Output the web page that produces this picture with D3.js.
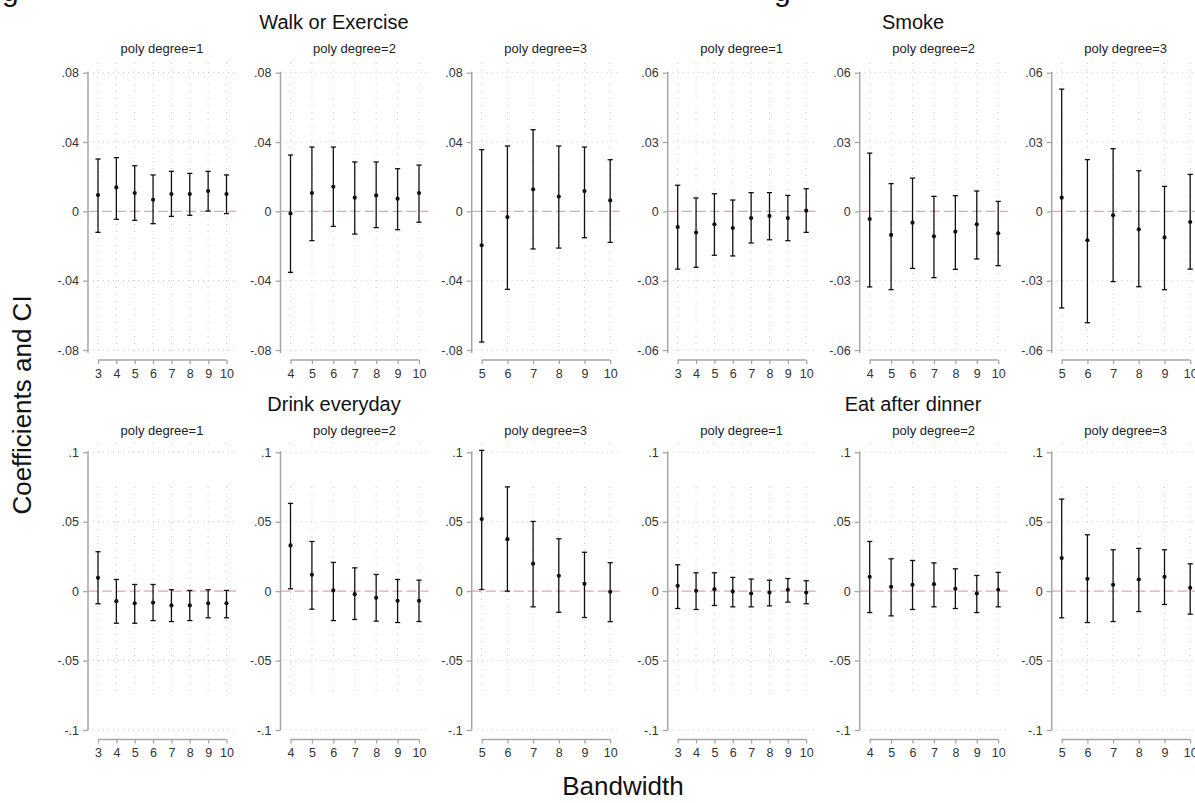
<!DOCTYPE html>
<html>
<head>
<meta charset="utf-8">
<script src="https://cdn.jsdelivr.net/npm/d3@7/dist/d3.min.js"></script>
<style>
  html, body { margin: 0; padding: 0; background: #fff; }
  svg { display: block; font-family: "Liberation Sans", Arial, sans-serif; }
</style>
</head>
<body>
<svg id="chart" width="1195" height="803"></svg>
<script>
// Bandwidths used for each polynomial degree
const bwDeg1 = [3, 4, 5, 6, 7, 8, 9, 10];
const bwDeg2 = [4, 5, 6, 7, 8, 9, 10];
const bwDeg3 = [5, 6, 7, 8, 9, 10];

// Walk or Exercise
const walkD1Coef = [0.0094, 0.0138, 0.0106, 0.0067, 0.0100, 0.0100, 0.0117, 0.0100];
const walkD1Lo   = [-0.0121, -0.0046, -0.0052, -0.0071, -0.0029, -0.0023, 0.0002, -0.0013];
const walkD1Hi   = [0.0302, 0.0310, 0.0263, 0.0210, 0.0231, 0.0219, 0.0231, 0.0210];
const walkD2Coef = [-0.0012, 0.0106, 0.0142, 0.0079, 0.0092, 0.0073, 0.0106];
const walkD2Lo   = [-0.0352, -0.0169, -0.0087, -0.0131, -0.0094, -0.0106, -0.0063];
const walkD2Hi   = [0.0325, 0.0371, 0.0371, 0.0285, 0.0285, 0.0246, 0.0267];
const walkD3Coef = [-0.0196, -0.0033, 0.0127, 0.0085, 0.0117, 0.0063];
const walkD3Lo   = [-0.0754, -0.0450, -0.0217, -0.0212, -0.0152, -0.0179];
const walkD3Hi   = [0.0356, 0.0377, 0.0471, 0.0377, 0.0371, 0.0298];

// Smoke
const smokeD1Coef = [-0.0068, -0.0092, -0.0056, -0.0072, -0.0029, -0.0020, -0.0029, 0.0003];
const smokeD1Lo   = [-0.0250, -0.0242, -0.0190, -0.0193, -0.0137, -0.0123, -0.0127, -0.0091];
const smokeD1Hi   = [0.0113, 0.0058, 0.0076, 0.0049, 0.0081, 0.0081, 0.0069, 0.0098];
const smokeD2Coef = [-0.0033, -0.0102, -0.0049, -0.0108, -0.0088, -0.0056, -0.0095];
const smokeD2Lo   = [-0.0327, -0.0339, -0.0247, -0.0287, -0.0251, -0.0206, -0.0235];
const smokeD2Hi   = [0.0252, 0.0120, 0.0144, 0.0065, 0.0068, 0.0088, 0.0043];
const smokeD3Coef = [0.0059, -0.0125, -0.0017, -0.0078, -0.0113, -0.0046];
const smokeD3Lo   = [-0.0418, -0.0482, -0.0304, -0.0326, -0.0339, -0.0250];
const smokeD3Hi   = [0.0529, 0.0224, 0.0271, 0.0176, 0.0108, 0.0160];

// Drink everyday
const drinkD1Coef = [0.0096, -0.0072, -0.0087, -0.0082, -0.0103, -0.0103, -0.0087, -0.0087];
const drinkD1Lo   = [-0.0091, -0.0231, -0.0231, -0.0212, -0.0219, -0.0212, -0.0192, -0.0192];
const drinkD1Hi   = [0.0284, 0.0084, 0.0048, 0.0048, 0.0010, 0.0005, 0.0010, 0.0005];
const drinkD2Coef = [0.0329, 0.0118, 0.0005, -0.0022, -0.0048, -0.0070, -0.0070];
const drinkD2Lo   = [0.0017, -0.0130, -0.0212, -0.0204, -0.0216, -0.0226, -0.0219];
const drinkD2Hi   = [0.0632, 0.0358, 0.0207, 0.0168, 0.0120, 0.0084, 0.0079];
const drinkD3Coef = [0.0519, 0.0374, 0.0198, 0.0111, 0.0053, -0.0005];
const drinkD3Lo   = [0.0012, 0.0000, -0.0113, -0.0152, -0.0190, -0.0220];
const drinkD3Hi   = [0.1014, 0.0751, 0.0502, 0.0377, 0.0280, 0.0205];

// Eat after dinner
const eatD1Coef = [0.0038, 0.0002, 0.0014, -0.0002, -0.0017, -0.0010, 0.0010, -0.0010];
const eatD1Lo   = [-0.0125, -0.0132, -0.0103, -0.0113, -0.0113, -0.0106, -0.0079, -0.0091];
const eatD1Hi   = [0.0190, 0.0132, 0.0132, 0.0099, 0.0087, 0.0079, 0.0091, 0.0075];
const eatD2Coef = [0.0103, 0.0031, 0.0046, 0.0050, 0.0017, -0.0017, 0.0010];
const eatD2Lo   = [-0.0154, -0.0178, -0.0132, -0.0113, -0.0125, -0.0154, -0.0113];
const eatD2Hi   = [0.0358, 0.0233, 0.0221, 0.0204, 0.0161, 0.0113, 0.0135];
const eatD3Coef = [0.0238, 0.0089, 0.0046, 0.0084, 0.0103, 0.0024];
const eatD3Lo   = [-0.0192, -0.0226, -0.0219, -0.0147, -0.0096, -0.0166];
const eatD3Hi   = [0.0663, 0.0406, 0.0298, 0.0308, 0.0298, 0.0197];

// Y-axis ticks per outcome
const walkTicks  = [-0.08, -0.04, 0, 0.04, 0.08];
const smokeTicks = [-0.06, -0.03, 0, 0.03, 0.06];
const drinkTicks = [-0.1, -0.05, 0, 0.05, 0.1];
const eatTicks   = [-0.1, -0.05, 0, 0.05, 0.1];

// Titles
const outcomeTitles = ["Walk or Exercise", "Smoke", "Drink everyday", "Eat after dinner"];
const degreeLabels = ["poly degree=1", "poly degree=2", "poly degree=3"];
const yTitle = "Coefficients and CI";
const xTitle = "Bandwidth";

const svg = d3.select("#chart");

// Descenders of the figure headings that run off the top edge
svg.append("text").attr("x", 2).attr("y", 1).attr("font-size", 30).attr("fill", "#111").text("g");
svg.append("text").attr("x", 774).attr("y", 1).attr("font-size", 30).attr("fill", "#111").text("g");

// Panel layout
const colAxisX = [88, 280.5, 471.7, 667.7, 859.7, 1051.7];
const rows = [
  { yTop: 72.7, yBot: 350, xAxisY: 360, gridTop: 63, gridBot: 353, gridFrom: null, titleY: 29, subY: 53 },
  { yTop: 452.3, yBot: 730, xAxisY: 739.5, gridTop: 443, gridBot: null, gridFrom: [0.075, -0.075], titleY: 411, subY: 435 }
];
const groupCenters = [334, 913];

const outcomes = [
  { ticks: walkTicks,  row: 0, group: 0, d: [[bwDeg1, walkD1Coef, walkD1Lo, walkD1Hi], [bwDeg2, walkD2Coef, walkD2Lo, walkD2Hi], [bwDeg3, walkD3Coef, walkD3Lo, walkD3Hi]] },
  { ticks: smokeTicks, row: 0, group: 1, d: [[bwDeg1, smokeD1Coef, smokeD1Lo, smokeD1Hi], [bwDeg2, smokeD2Coef, smokeD2Lo, smokeD2Hi], [bwDeg3, smokeD3Coef, smokeD3Lo, smokeD3Hi]] },
  { ticks: drinkTicks, row: 1, group: 0, d: [[bwDeg1, drinkD1Coef, drinkD1Lo, drinkD1Hi], [bwDeg2, drinkD2Coef, drinkD2Lo, drinkD2Hi], [bwDeg3, drinkD3Coef, drinkD3Lo, drinkD3Hi]] },
  { ticks: eatTicks,   row: 1, group: 1, d: [[bwDeg1, eatD1Coef, eatD1Lo, eatD1Hi], [bwDeg2, eatD2Coef, eatD2Lo, eatD2Hi], [bwDeg3, eatD3Coef, eatD3Lo, eatD3Hi]] }
];

// Tick label without the leading zero: .04, -.08, 0
function fmt(v) {
  if (Math.abs(v) < 1e-9) return "0";
  const s = String(+v.toFixed(4));
  return s.replace(/^0\./, ".").replace(/^-0\./, "-.");
}

const axisColor = "#a6a6a6";
const gridColor = "#c4c4c4";
const textColor = "#333";

outcomes.forEach((o, oi) => {
  const r = rows[o.row];
  svg.append("text")
    .attr("x", groupCenters[o.group]).attr("y", r.titleY)
    .attr("text-anchor", "middle").attr("font-size", 20).attr("fill", "#111")
    .text(outcomeTitles[oi]);

  o.d.forEach((series, di) => {
    const [bw, coef, lo, hi] = series;
    const ax = colAxisX[o.group * 3 + di];
    const g = svg.append("g");

    const x = d3.scaleLinear().domain([bw[0], 10]).range([ax + 10, ax + 138.5]);
    const ymax = d3.max(o.ticks), ymin = d3.min(o.ticks);
    const y = d3.scaleLinear().domain([ymin, ymax]).range([r.yBot, r.yTop]);
    const plotRight = ax + 148;

    // horizontal grid
    o.ticks.filter(t => t !== 0).forEach(t => {
      g.append("line")
        .attr("x1", ax).attr("x2", plotRight)
        .attr("y1", y(t)).attr("y2", y(t))
        .attr("stroke", gridColor).attr("stroke-width", 1)
        .attr("stroke-dasharray", "1,4");
    });
    // vertical grid
    bw.forEach(b => {
      if (r.gridFrom) {
        g.append("line")
          .attr("x1", x(b)).attr("x2", x(b))
          .attr("y1", r.gridTop).attr("y2", r.gridTop + 1)
          .attr("stroke", gridColor).attr("stroke-width", 1);
        g.append("line")
          .attr("x1", x(b)).attr("x2", x(b))
          .attr("y1", y(r.gridFrom[0])).attr("y2", y(r.gridFrom[1]))
          .attr("stroke", gridColor).attr("stroke-width", 1)
          .attr("stroke-dasharray", "1,6");
      } else {
        g.append("line")
          .attr("x1", x(b)).attr("x2", x(b))
          .attr("y1", r.gridTop).attr("y2", r.gridBot)
          .attr("stroke", gridColor).attr("stroke-width", 1)
          .attr("stroke-dasharray", "1,6");
      }
    });

    // zero reference line
    g.append("line")
      .attr("x1", ax).attr("x2", plotRight)
      .attr("y1", y(0)).attr("y2", y(0))
      .attr("stroke", "#dca6bd").attr("stroke-width", 1.4)
      .attr("stroke-dasharray", "10,4");

    // y axis
    const yAxis = d3.axisLeft(y).tickValues(o.ticks).tickFormat(fmt).tickSize(5).tickPadding(4);
    const yg = g.append("g").attr("transform", `translate(${ax},0)`).call(yAxis);
    yg.select(".domain").attr("d", `M0,${r.yTop - 1}V${r.yBot + (o.row === 0 ? 3 : 0)}`)
      .attr("stroke", axisColor).attr("stroke-width", 1.5);
    yg.selectAll(".tick line").attr("stroke", axisColor).attr("stroke-width", 1.3);
    yg.selectAll(".tick text").attr("fill", textColor).attr("font-size", 12.5)
      .attr("font-family", "Liberation Sans, Arial, sans-serif");

    // x axis
    const xAxis = d3.axisBottom(x).tickValues(bw).tickFormat(d3.format("d")).tickSize(4).tickPadding(5);
    const xg = g.append("g").attr("transform", `translate(0,${r.xAxisY})`).call(xAxis);
    xg.select(".domain").attr("d", `M${x(bw[0])},0H${x(10)}`)
      .attr("stroke", axisColor).attr("stroke-width", 1.5);
    xg.selectAll(".tick line").attr("stroke", axisColor).attr("stroke-width", 1.3);
    xg.selectAll(".tick text").attr("fill", textColor).attr("font-size", 12.5)
      .attr("font-family", "Liberation Sans, Arial, sans-serif");

    // subtitle
    svg.append("text")
      .attr("x", ax + 74).attr("y", r.subY)
      .attr("text-anchor", "middle").attr("font-size", 13).attr("fill", "#222")
      .text(degreeLabels[di]);

    // confidence intervals and point estimates
    const pts = bw.map((b, i) => ({ b, c: coef[i], lo: lo[i], hi: hi[i] }));
    const eb = g.selectAll(".eb").data(pts).enter().append("g");
    eb.append("line")
      .attr("x1", d => x(d.b)).attr("x2", d => x(d.b))
      .attr("y1", d => y(d.lo)).attr("y2", d => y(d.hi))
      .attr("stroke", "#111").attr("stroke-width", 1.3);
    eb.append("line")
      .attr("x1", d => x(d.b) - 2.6).attr("x2", d => x(d.b) + 2.6)
      .attr("y1", d => y(d.hi)).attr("y2", d => y(d.hi))
      .attr("stroke", "#111").attr("stroke-width", 1.3);
    eb.append("line")
      .attr("x1", d => x(d.b) - 2.6).attr("x2", d => x(d.b) + 2.6)
      .attr("y1", d => y(d.lo)).attr("y2", d => y(d.lo))
      .attr("stroke", "#111").attr("stroke-width", 1.3);
    eb.append("circle")
      .attr("cx", d => x(d.b)).attr("cy", d => y(d.c))
      .attr("r", 2.1).attr("fill", "#111");
  });
});

// Overall axis titles
svg.append("text")
  .attr("transform", "translate(31,405) rotate(-90)")
  .attr("text-anchor", "middle").attr("font-size", 26).attr("fill", "#111")
  .text(yTitle);
svg.append("text")
  .attr("x", 623).attr("y", 795)
  .attr("text-anchor", "middle").attr("font-size", 26).attr("fill", "#111")
  .text(xTitle);
</script>
</body>
</html>
